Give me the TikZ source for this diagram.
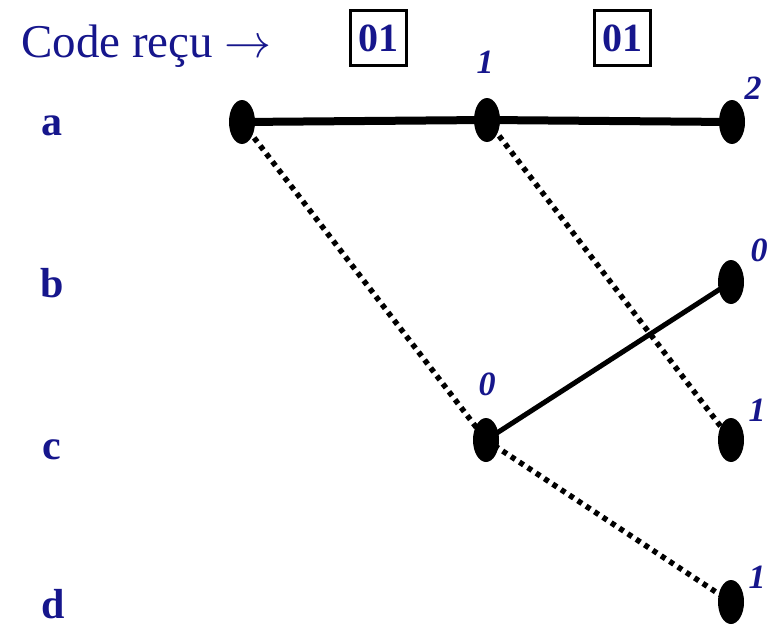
\RequirePackage{fix-cm}
\documentclass[tikz,border=0pt]{standalone}
\usepackage{fontspec}
\setmainfont{Liberation Serif}
\usetikzlibrary{shapes.geometric}
\definecolor{navy}{RGB}{22,22,140}
\tikzset{
  dot/.style={ellipse,fill=black,draw=none,minimum width=26pt,minimum height=44pt,inner sep=0pt},
  state/.style={text=navy,font=\fontsize{42}{44}\selectfont\bfseries,anchor=base,inner sep=0pt},
  metric/.style={text=navy,font=\fontsize{34}{36}\selectfont\bfseries\itshape,inner sep=0pt},
  codebox/.style={draw=black,line width=3pt,text=navy,font=\fontsize{40}{44}\selectfont\bfseries,inner sep=2pt,minimum width=56pt,minimum height=54pt},
  solidedge/.style={line width=8pt},
  thinedge/.style={line width=5pt},
  dottededge/.style={line width=5.5pt,dash pattern=on 5pt off 5pt}
}
\begin{document}
\begin{tikzpicture}[x=1pt,y=-1pt]
\useasboundingbox (0,0) rectangle (767,626);
\node[text=navy,font=\fontsize{47}{50}\selectfont,anchor=base west,inner sep=0pt] (title) at (21,57) {Code reçu $\rightarrow$};
\node[codebox] (box1) at (378,38) {01};
\node[codebox] (box2) at (622,38) {01};
\node[state] (la) at (52,135) {a};
\node[state] (lb) at (52,297) {b};
\node[state] (lc) at (52,459) {c};
\node[state] (ld) at (53,618) {d};
\node[dot] (a1) at (242,122) {};
\node[dot] (a2) at (487,120) {};
\node[dot] (a3) at (732,122) {};
\node[dot] (b3) at (731,282) {};
\node[dot] (c2) at (486,440) {};
\node[dot] (c3) at (731,440) {};
\node[dot] (d3) at (731,602) {};
\node[metric] (m1) at (485,62) {1};
\node[metric] (m2) at (753,88) {2};
\node[metric] (m3) at (759,250) {0};
\node[metric] (m4) at (487,384) {0};
\node[metric] (m5) at (757,410) {1};
\node[metric] (m6) at (757,577) {1};
\draw[solidedge] (a1.center) -- (a2.center) -- (a3.center);
\draw[thinedge] (c2.center) -- (b3.center);
\draw[dottededge] (a1.center) -- (c2.center);
\draw[dottededge] (a2.center) -- (c3.center);
\draw[dottededge] (c2.center) -- (d3.center);
\end{tikzpicture}
\end{document}
